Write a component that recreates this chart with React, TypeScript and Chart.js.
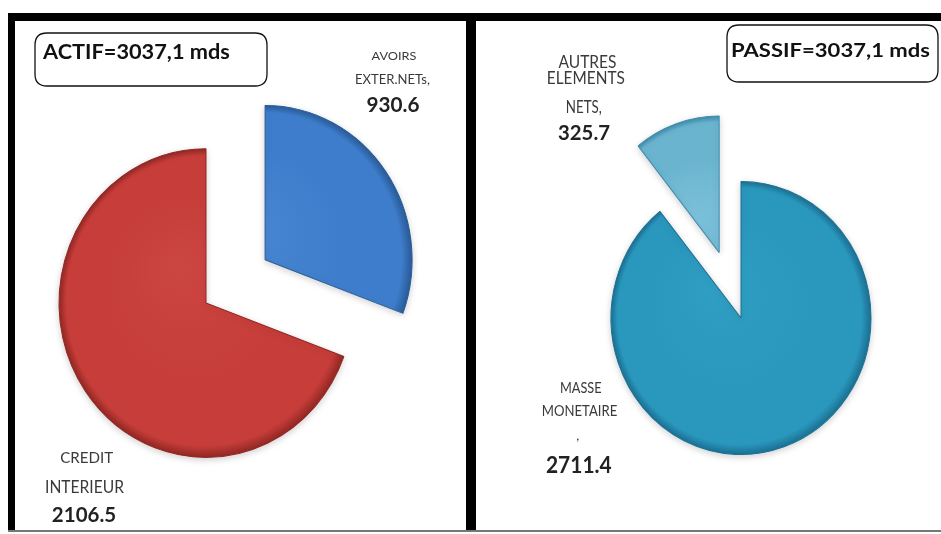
import React, { useEffect, useRef } from "react";
import { Chart, registerables } from "chart.js";

Chart.register(...registerables);

// ---------- data ----------
const actifTitle = "ACTIF=3037,1 mds";
const actifCategories = ["AVOIRS EXTER.NETs,", "CREDIT INTERIEUR"];
const actifValues = [930.6, 2106.5];

const passifTitle = "PASSIF=3037,1 mds";
const passifCategories = ["MASSE MONETAIRE ,", "AUTRES ELEMENTS NETS,"];
const passifValues = [2711.4, 325.7];

// ---------- styles ----------
const FONT = 'Lato, "Open Sans", "DejaVu Sans", sans-serif';
const actifColors = [
  { light: "#4A88D4", base: "#3E7DCB", dark: "#2A5C9A" },
  { light: "#CC4641", base: "#C63D39", dark: "#932824" },
];
const passifColors = [
  { light: "#309FC3", base: "#2A97BD", dark: "#1B7194" },
  { light: "#7CC0DA", base: "#6AB4D0", dark: "#3F8DAD" },
];
const actifExplode = [72, 0];
const passifExplode = [0, 66];

// label layout: per category, one entry per text line then the value line: [x, baseline, width, capHeight]
const actifLabelLayout = [
  [[394, 59.5, 45, 8], [392.5, 83.5, 75, 10], [393, 112, 53, 14.5]],
  [[86.7, 463, 53, 11.6], [84.5, 493, 79, 12.2], [84, 521.5, 64.3, 14.5]],
];
const passifLabelLayout = [
  [[104.8, 393, 41.7, 11.6], [103.5, 416, 75.6, 11], [101.7, 440, 0, 9], [102.8, 473, 65.7, 16.6]],
  [[111.5, 68, 58, 12], [109.8, 83.7, 78, 12], [107.8, 112.5, 36, 12], [108, 140, 52, 15]],
];

function drawFitted(
  ctx: CanvasRenderingContext2D,
  text: string,
  x: number,
  baseline: number,
  w: number,
  cap: number,
  bold: boolean,
  color: string,
  align: CanvasTextAlign
) {
  const weight = bold ? "bold " : "";
  let size = 13;
  if (w > 0) {
    ctx.font = `${weight}100px ${FONT}`;
    size = (100 * w) / ctx.measureText(text).width;
  }
  const sy = cap / (0.7165 * size);
  ctx.save();
  ctx.font = `${weight}${size}px ${FONT}`;
  ctx.fillStyle = color;
  ctx.textAlign = align;
  ctx.textBaseline = "alphabetic";
  ctx.translate(x, baseline);
  ctx.scale(1, sy);
  ctx.fillText(text, 0, 0);
  ctx.restore();
}

function roundRect(ctx: CanvasRenderingContext2D, x0: number, y0: number, x1: number, y1: number, r: number) {
  ctx.beginPath();
  ctx.moveTo(x0 + r, y0);
  ctx.lineTo(x1 - r, y0);
  ctx.quadraticCurveTo(x1, y0, x1, y0 + r);
  ctx.lineTo(x1, y1 - r);
  ctx.quadraticCurveTo(x1, y1, x1 - r, y1);
  ctx.lineTo(x0 + r, y1);
  ctx.quadraticCurveTo(x0, y1, x0, y1 - r);
  ctx.lineTo(x0, y0 + r);
  ctx.quadraticCurveTo(x0, y0, x0 + r, y0);
  ctx.closePath();
}

const explodePlugin = {
  id: "explode",
  beforeDatasetsDraw(chart: any, _args: any, opts: any) {
    const ctx = chart.ctx as CanvasRenderingContext2D;
    const meta = chart.getDatasetMeta(0);
    const a = chart.chartArea;
    const cx = (a.left + a.right) / 2;
    const cy = (a.top + a.bottom) / 2;
    ctx.save();
    ctx.translate(cx, cy);
    ctx.scale(1, opts.sy);
    ctx.translate(-cx, -cy);
    ctx.shadowColor = "rgba(0,0,0,0.18)";
    ctx.shadowBlur = 7;
    ctx.shadowOffsetY = 2;
    meta.data.forEach((el: any, i: number) => {
      const d = opts.explode[i] || 0;
      const mid = (el.startAngle + el.endAngle) / 2;
      ctx.save();
      ctx.translate(Math.cos(mid) * d, Math.sin(mid) * d);
      el.draw(ctx);
      ctx.restore();
    });
    ctx.restore();
    return false;
  },
};

const textPlugin = {
  id: "panelText",
  afterDraw(chart: any, _args: any, opts: any) {
    const ctx = chart.ctx as CanvasRenderingContext2D;
    const t = opts.title;
    ctx.save();
    ctx.strokeStyle = "#111";
    ctx.lineWidth = 1.3;
    roundRect(ctx, t.box[0], t.box[1], t.box[2], t.box[3], 12);
    ctx.stroke();
    ctx.restore();
    drawFitted(ctx, t.text, t.x, t.baseline, t.w, t.cap, true, "#111", "left");

    const cats: string[] = chart.data.labels;
    const values: number[] = chart.data.datasets[0].data;
    cats.forEach((cat, i) => {
      const lines = cat.split(" ");
      const layout = opts.layout[i];
      lines.forEach((line, j) => {
        const [x, b, w, cap] = layout[j];
        drawFitted(ctx, line, x, b, w, cap, false, "#3A3A3A", "center");
      });
      const [x, b, w, cap] = layout[lines.length];
      drawFitted(ctx, values[i].toFixed(1), x, b, w, cap, true, "#222", "center");
    });
  },
};

function makePie(
  canvas: HTMLCanvasElement,
  categories: string[],
  values: number[],
  colors: { light: string; base: string; dark: string }[],
  explode: number[],
  radius: number,
  padding: { left: number; right: number; top: number; bottom: number },
  title: any,
  layout: number[][][]
) {
  const fill = (c: any) => {
    const col = colors[c.dataIndex];
    const a = c.chart.chartArea;
    if (!a) return col.base;
    const cx = (a.left + a.right) / 2;
    const cy = (a.top + a.bottom) / 2;
    const g = c.chart.ctx.createRadialGradient(cx - radius * 0.2, cy - radius * 0.25, 0, cx, cy, radius);
    g.addColorStop(0, col.light);
    g.addColorStop(0.6, col.base);
    g.addColorStop(0.94, col.base);
    g.addColorStop(1, col.dark);
    return g;
  };
  return new Chart(canvas, {
    type: "pie",
    data: {
      labels: categories,
      datasets: [
        {
          data: values,
          backgroundColor: fill,
          borderColor: colors.map((c) => c.dark),
          borderWidth: 1,
          radius: radius,
        } as any,
      ],
    },
    options: {
      responsive: false,
      animation: false,
      devicePixelRatio: 1,
      events: [],
      layout: { padding },
      plugins: {
        legend: { display: false },
        tooltip: { enabled: false },
        title: { display: false },
        explode: { explode, sy: 1.05 },
        panelText: { title, layout },
      } as any,
    },
    plugins: [explodePlugin, textPlugin],
  });
}

export default function App() {
  const leftRef = useRef<HTMLCanvasElement>(null);
  const rightRef = useRef<HTMLCanvasElement>(null);

  useEffect(() => {
    const c1 = makePie(
      leftRef.current!,
      actifCategories,
      actifValues,
      actifColors,
      actifExplode,
      147,
      { left: 0, right: 58, top: 72, bottom: 0 },
      { text: actifTitle, box: [35, 33, 267, 86], x: 43, baseline: 59, w: 187, cap: 15.5 },
      actifLabelLayout
    );
    const c2 = makePie(
      rightRef.current!,
      passifCategories,
      passifValues,
      passifColors,
      passifExplode,
      130,
      { left: 65, right: 0, top: 102, bottom: 0 },
      { text: passifTitle, box: [251, 25, 462, 82], x: 255, baseline: 57, w: 199, cap: 14 },
      passifLabelLayout
    );
    return () => {
      c1.destroy();
      c2.destroy();
    };
  }, []);

  const bar = (l: number, t: number, w: number, h: number, bg: string) => (
    <div style={{ position: "absolute", left: l, top: t, width: w, height: h, background: bg }} />
  );

  return (
    <div style={{ position: "absolute", left: 0, top: 0, width: 941, height: 534, background: "#fff", overflow: "hidden" }}>
      <canvas ref={leftRef} width={470} height={534} style={{ position: "absolute", left: 0, top: 0 }} />
      <canvas ref={rightRef} width={465} height={534} style={{ position: "absolute", left: 476, top: 0 }} />
      {bar(8, 13, 933, 8, "#000")}
      {bar(8, 13, 7, 518, "#000")}
      {bar(466, 13, 10, 519, "#000")}
      {bar(8, 530, 933, 2, "#777")}
    </div>
  );
}
